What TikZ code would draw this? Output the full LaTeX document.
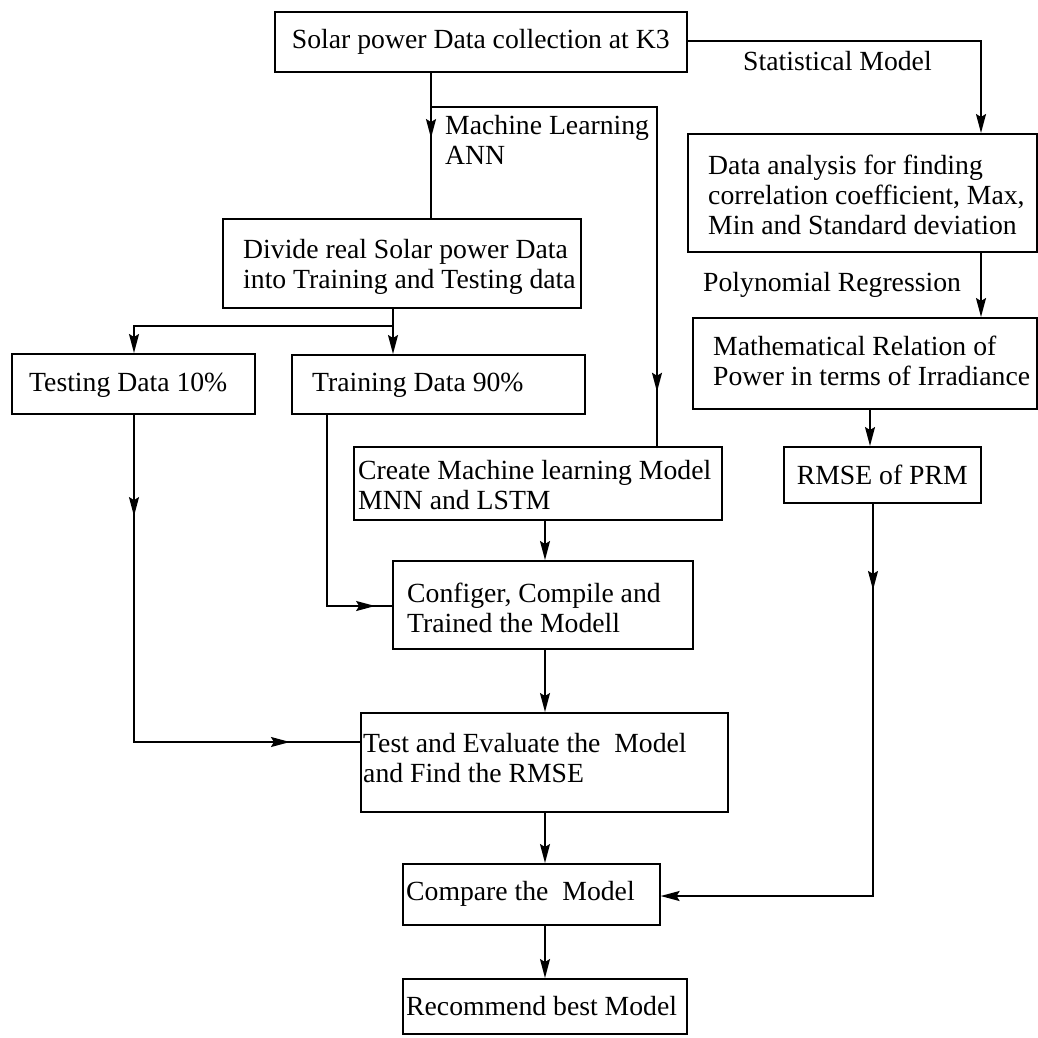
\documentclass[tikz,border=0pt]{standalone}
\usepackage{fontspec}
\setmainfont{Liberation Serif}
\usetikzlibrary{arrows.meta,decorations.markings}
\begin{document}
\begin{tikzpicture}[x=1pt,y=-1pt,
  line/.style={line width=1.6pt, draw=black, line cap=rect},
  arr/.style={line, -{Stealth[length=19pt,width=10pt,inset=3pt]}},
  midarr/.style={line, postaction={decorate},
    decoration={markings, mark=at position #1 with {\arrow{Stealth[length=19pt,width=10pt,inset=3pt]}}}},
  box/.style={draw=black, line width=1.6pt, inner sep=0pt, anchor=north west},
  txt/.style={font=\fontsize{27.7}{30}\selectfont, align=left, inner sep=0pt},
  lbl/.style={font=\fontsize{27.7}{30}\selectfont, inner sep=0pt},
]
\useasboundingbox (0,0) rectangle (1038,1037);

% boxes (north-west corner, size)
\node[box, minimum width=412, minimum height=60]  (b1)      at (274,11)  {};
\node[box, minimum width=349, minimum height=118] (bDA)     at (687,133) {};
\node[box, minimum width=358, minimum height=89]  (bDiv)    at (222,218) {};
\node[box, minimum width=344, minimum height=91]  (bMath)   at (692,317) {};
\node[box, minimum width=243, minimum height=60]  (bTest)   at (11,353)  {};
\node[box, minimum width=293, minimum height=59]  (bTrain)  at (291,354) {};
\node[box, minimum width=368, minimum height=73]  (bCreate) at (353,446) {};
\node[box, minimum width=197, minimum height=56]  (bRMSE)   at (783,446) {};
\node[box, minimum width=300, minimum height=88]  (bConf)   at (392,560) {};
\node[box, minimum width=367, minimum height=99]  (bEval)   at (360,712) {};
\node[box, minimum width=257, minimum height=61]  (bComp)   at (402,863) {};
\node[box, minimum width=284, minimum height=55]  (bRec)    at (402,978) {};

% box texts
\node[txt] (t1) at (b1.center) {Solar power Data collection at K3};
\node[txt, anchor=west] (tDA) at (708,195) {Data analysis for finding\\correlation coefficient, Max,\\Min and Standard deviation};
\node[txt, anchor=west] (tDiv) at (243,267) {Divide real Solar power Data\\into Training and Testing data};
\node[txt, anchor=west] (tMath) at (713,361) {Mathematical Relation of\\Power in terms of Irradiance};
\node[txt, anchor=west] (tTest) at (29,385) {Testing Data 10\%};
\node[txt, anchor=west] (tTrain) at (312,385) {Training Data 90\%};
\node[txt, anchor=west] (tCreate) at (358,485) {Create Machine learning Model\\MNN and LSTM};
\node[txt] (tRMSE) at (bRMSE.center) {RMSE of PRM};
\node[txt, anchor=west] (tConf) at (407,608) {Configer, Compile and\\Trained the Modell};
\node[txt, anchor=west] (tEval) at (363,758) {Test and Evaluate the~ Model\\and Find the RMSE};
\node[txt, anchor=west] (tComp) at (406,894) {Compare the~ Model};
\node[txt, anchor=west] (tRec) at (406,1006) {Recommend best Model};

% branch labels
\node[lbl, anchor=base west] (lStat) at (743,70) {Statistical Model};
\node[lbl, anchor=base west] (lPoly) at (703,291) {Polynomial Regression};
\node[txt, anchor=west] (lML) at (445,140) {Machine Learning\\ANN};

% bend points
\coordinate (mlx) at (431,107);
\coordinate (mlc) at (657,107);
\coordinate (stc) at (981,41);
\coordinate (rx)  at (870,0);
\coordinate (rc)  at (873,896);
\coordinate (sp)  at (393,326);
\coordinate (spl) at (134,326);
\coordinate (tc)  at (134,742);
\coordinate (trc) at (327,606);
\coordinate (mx)  at (545,0);

% machine learning branch
\draw[midarr=0.45] (b1.south -| mlx) -- (bDiv.north -| mlx);
\draw[line] (mlx) -- (mlc);
\draw[midarr=0.84] (mlc) -- (bCreate.north -| mlc);

% statistical branch
\draw[arr] (b1.east |- stc) -- (stc) -- (bDA.north -| stc);
\draw[arr] (bDA.south -| stc) -- (bMath.north -| stc);
\draw[arr] (bMath.south -| rx) -- (bRMSE.north -| rx);
\draw[midarr=0.22] (bRMSE.south -| rc) -- (rc);
\draw[arr] (rc) -- (bComp.east |- rc);

% data split
\draw[line] (bDiv.south -| sp) -- (sp) -- (spl);
\draw[arr] (sp) -- (bTrain.north -| sp);
\draw[arr] (spl) -- (bTest.north -| spl);
\draw[midarr=0.31] (bTest.south -| tc) -- (tc);
\draw[midarr=0.69] (tc) -- (bEval.west |- tc);
\draw[line] (bTrain.south -| trc) -- (trc);
\draw[midarr=0.74] (trc) -- (bConf.west |- trc);

% main chain
\draw[arr] (bCreate.south -| mx) -- (bConf.north -| mx);
\draw[arr] (bConf.south -| mx) -- (bEval.north -| mx);
\draw[arr] (bEval.south -| mx) -- (bComp.north -| mx);
\draw[arr] (bComp.south -| mx) -- (bRec.north -| mx);
\end{tikzpicture}
\end{document}
